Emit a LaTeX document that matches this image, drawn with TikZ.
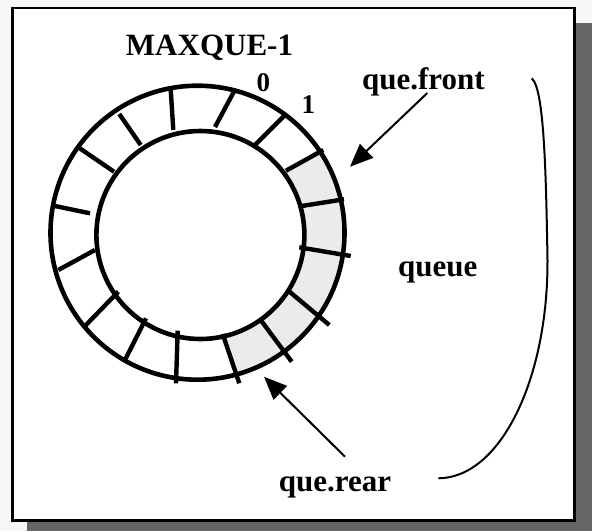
\documentclass[tikz,border=0pt]{standalone}
\usepackage{fontspec}
\setmainfont{Liberation Serif}
\usetikzlibrary{arrows.meta,calc}
\definecolor{pagebg}{RGB}{247,247,247}
\definecolor{shadowgray}{RGB}{102,102,102}
\definecolor{slotfill}{RGB}{235,235,235}

\begin{document}
\begin{tikzpicture}[x=1pt,y=-1pt,
  lbl/.style={font=\fontsize{31}{31}\selectfont\bfseries, inner sep=0pt, anchor=base},
  idx/.style={font=\fontsize{27}{27}\selectfont\bfseries, inner sep=0pt, anchor=base},
  ringline/.style={line width=4.6pt},
  spoke/.style={line width=4.4pt},
  pointer/.style={line width=2pt, -{Triangle[length=23pt,width=19pt]}},
  brace/.style={line width=2pt}]
\useasboundingbox (0,0) rectangle (592,531);

% page, drop shadow and framed panel
\fill[pagebg] (0,0) rectangle (592,531);
\fill[shadowgray] (27,22.5) rectangle (592,531);
\draw[fill=white, line width=2.7pt] (12.7,8) rectangle (574.7,520.5);

% ring centres
\coordinate (oc) at (197.5,232.7);
\coordinate (ic) at (200.4,235);

% slot dividers: outer end / inner end
\foreach \n/\ox/\oy/\ix/\iy in {
  1/170.7/89.3/173.3/130,
  2/234/91.5/215/127,
  3/285/115/255/145,
  4/323.3/150/286/170.7,
  5/344/199.3/301.7/206,
  6/350.7/256/299.3/247.3,
  7/329.3/325/288.3/290.7,
  8/291.7/361.7/260.7/320,
  9/239.3/383.3/222.7/334,
  10/176/383.3/177.7/330.7,
  11/125/360/146/318.3,
  12/85/326/118.3/291.7,
  13/58.3/270/95/250,
  14/55/206/90/213.3,
  15/78.3/147.3/114/171.7,
  16/119.3/114/140.7/145}
{
  \coordinate (s\n o) at (\ox,\oy);
  \coordinate (s\n i) at (\ix,\iy);
}

% occupied slots of the queue
\begin{scope}
  \clip (s4i) -- ($(s4i)!1.4!(s4o)$) -- (420,120) -- (420,460)
        -- ($(s9i)!1.4!(s9o)$) -- (s9i) -- (ic) -- cycle;
  \fill[slotfill, even odd rule] (oc) circle[radius=147pt] (ic) circle[radius=104pt];
\end{scope}

% ring
\draw[ringline] (oc) circle[radius=147pt];
\draw[ringline] (ic) circle[radius=104pt];
\foreach \n in {1,...,16}
  \draw[spoke] (s\n o) -- (s\n i);

% labels
\node[lbl] (maxque) at (209.5,55) {MAXQUE-1};
\node[idx] (zero) at (263.3,91.7) {0};
\node[idx] (one) at (308.4,113.3) {1};
\node[lbl] (front) at (423.4,89.3) {que.front};
\node[lbl] (queue) at (437.8,276.7) {queue};
\node[lbl] (rear) at (335,491.7) {que.rear};

% pointers
\coordinate (fronttail) at (427.3,93);
\coordinate (fronttip) at (350,166.7);
\coordinate (reartail) at (345,456.7);
\coordinate (reartip) at (264,376.7);
\draw[pointer] (fronttail) -- (fronttip);
\draw[pointer] (reartail) -- (reartip);

% bracket spanning front to rear
\coordinate (brtop) at (531.7,78.3);
\coordinate (brmid) at (547.5,260);
\coordinate (brend) at (438.3,478.3);
\draw[brace] (brtop) .. controls (544,88) and (546,170) .. (brmid)
             .. controls (548,380) and (500,478) .. (brend);
\end{tikzpicture}
\end{document}
